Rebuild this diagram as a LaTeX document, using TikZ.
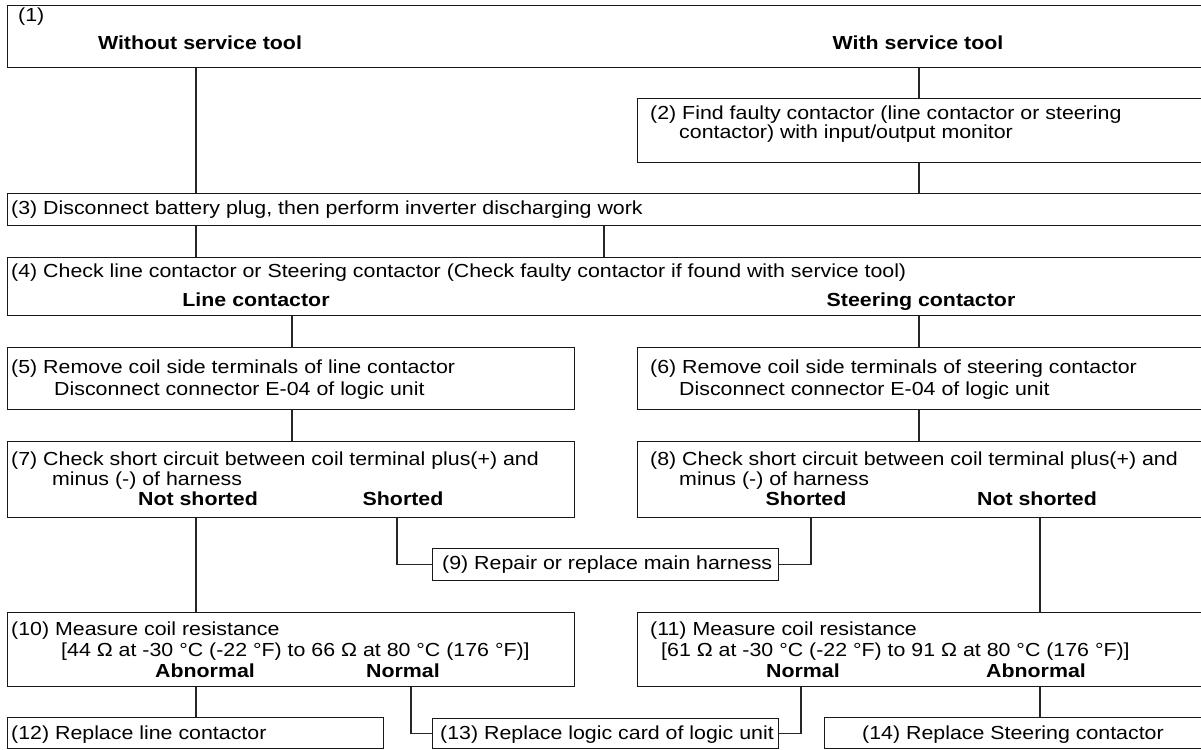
\documentclass[tikz,border=0pt]{standalone}
\usepackage{fontspec}
\setmainfont{Liberation Sans}[FakeStretch=1.13]

\begin{document}
\begin{tikzpicture}[
    x=1pt, y=-1pt,
    font=\fontsize{18.9}{21}\selectfont,
    box/.style={
        draw=black!90,
        line width=1.4pt,
        inner sep=0pt,
        anchor=north west
    },
    link/.style={draw=black!85, line width=1.1pt},
    txt/.style={anchor=base west, inner sep=0pt, text=black},
    hd/.style={anchor=base, inner sep=0pt, text=black, font=\fontsize{18.9}{21}\selectfont\bfseries}
]
\useasboundingbox (0,0) rectangle (1201,749);
\fill[white] (0,0) rectangle (1201,749);
\clip (0,0) rectangle (1201,749);

% ============================================================
% COLUMNS OF THE CONNECTORS
% ============================================================
\coordinate (xa) at (196,0);
\coordinate (xb) at (292,0);
\coordinate (xc) at (397,0);
\coordinate (xd) at (411,0);
\coordinate (xe) at (604,0);
\coordinate (xf) at (801,0);
\coordinate (xg) at (811,0);
\coordinate (xh) at (919,0);
\coordinate (xi) at (1040,0);

% ============================================================
% START / SERVICE TOOL
% ============================================================
\node[box, minimum width=1196, minimum height=62] (b1) at (7,5) {};
\node[txt] (t1) at (18,22) {(1)};
\node[hd] (t1a) at (200,50) {Without service tool};
\node[hd] (t1b) at (918,50) {With service tool};

\node[box, minimum width=566, minimum height=64] (b2) at (637,98) {};
\node[txt] (t2) at (650,120) {(2) Find faulty contactor (line contactor or steering};
\node[txt] (t2a) at (679,139) {contactor) with input/output monitor};

\node[box, minimum width=1196, minimum height=32] (b3) at (7,193) {};
\node[txt] (t3) at (11,214) {(3) Disconnect battery plug, then perform inverter discharging work};

\draw[link] (b1.south -| xa) -- (b3.north -| xa);
\draw[link] (b1.south -| xh) -- (b2.north -| xh);
\draw[link] (b2.south -| xh) -- (b3.north -| xh);

% ============================================================
% CONTACTOR CHECK
% ============================================================
\node[box, minimum width=1196, minimum height=58] (b4) at (7,257) {};
\node[txt] (t4) at (11,277) {(4) Check line contactor or Steering contactor (Check faulty contactor if found with service tool)};
\node[hd] (t4a) at (256,306) {Line contactor};
\node[hd] (t4b) at (921,306) {Steering contactor};

\draw[link] (b3.south -| xa) -- (b4.north -| xa);
\draw[link] (b3.south -| xe) -- (b4.north -| xe);

\node[box, minimum width=567, minimum height=62] (b5) at (7,347) {};
\node[txt] (t5) at (11,373) {(5) Remove coil side terminals of line contactor};
\node[txt] (t5a) at (54,395) {Disconnect connector E-04 of logic unit};

\node[box, minimum width=566, minimum height=62] (b6) at (637,347) {};
\node[txt] (t6) at (650,373) {(6) Remove coil side terminals of steering contactor};
\node[txt] (t6a) at (679,395) {Disconnect connector E-04 of logic unit};

\draw[link] (b4.south -| xb) -- (b5.north -| xb);
\draw[link] (b4.south -| xh) -- (b6.north -| xh);

% ============================================================
% HARNESS CHECK
% ============================================================
\node[box, minimum width=567, minimum height=76] (b7) at (7,441) {};
\node[txt] (t7) at (11,465) {(7) Check short circuit between coil terminal plus(+) and};
\node[txt] (t7a) at (52,485) {minus (-) of harness};
\node[hd] (t7b) at (198,505) {Not shorted};
\node[hd] (t7c) at (403,505) {Shorted};

\node[box, minimum width=566, minimum height=76] (b8) at (637,441) {};
\node[txt] (t8) at (650,465) {(8) Check short circuit between coil terminal plus(+) and};
\node[txt] (t8a) at (679,485) {minus (-) of harness};
\node[hd] (t8b) at (806,505) {Shorted};
\node[hd] (t8c) at (1037,505) {Not shorted};

\draw[link] (b5.south -| xb) -- (b7.north -| xb);
\draw[link] (b6.south -| xh) -- (b8.north -| xh);

\node[box, minimum width=346, minimum height=32] (b9) at (432,548) {};
\node[txt] (t9) at (442,569) {(9) Repair or replace main harness};

\draw[link] (b7.south -| xc) |- (b9.west);
\draw[link] (b8.south -| xg) |- (b9.east);

% ============================================================
% COIL RESISTANCE
% ============================================================
\node[box, minimum width=567, minimum height=74] (b10) at (7,612) {};
\node[txt] (t10) at (11,635) {(10) Measure coil resistance};
\node[txt] (t10a) at (61,656) {[44 Ω at -30 °C (-22 °F) to 66 Ω at 80 °C (176 °F)]};
\node[hd] (t10b) at (205,677) {Abnormal};
\node[hd] (t10c) at (403,677) {Normal};

\node[box, minimum width=566, minimum height=74] (b11) at (637,612) {};
\node[txt] (t11) at (650,635) {(11) Measure coil resistance};
\node[txt] (t11a) at (661,656) {[61 Ω at -30 °C (-22 °F) to 91 Ω at 80 °C (176 °F)]};
\node[hd] (t11b) at (803,677) {Normal};
\node[hd] (t11c) at (1036,677) {Abnormal};

\draw[link] (b7.south -| xa) -- (b10.north -| xa);
\draw[link] (b8.south -| xi) -- (b11.north -| xi);

% ============================================================
% REPLACEMENT
% ============================================================
\node[box, minimum width=376, minimum height=31] (b12) at (7,717) {};
\node[txt] (t12) at (11,739) {(12) Replace line contactor};

\node[box, minimum width=346, minimum height=30] (b13) at (432,718) {};
\node[txt] (t13) at (440,739) {(13) Replace logic card of logic unit};

\node[box, minimum width=379, minimum height=31] (b14) at (824,717) {};
\node[hd, font=\fontsize{18.9}{21}\selectfont] (t14) at (1013,739) {(14) Replace Steering contactor};

\draw[link] (b10.south -| xa) -- (b12.north -| xa);
\draw[link] (b10.south -| xd) |- (b13.west);
\draw[link] (b11.south -| xf) |- (b13.east);
\draw[link] (b11.south -| xi) -- (b14.north -| xi);

\end{tikzpicture}
\end{document}
